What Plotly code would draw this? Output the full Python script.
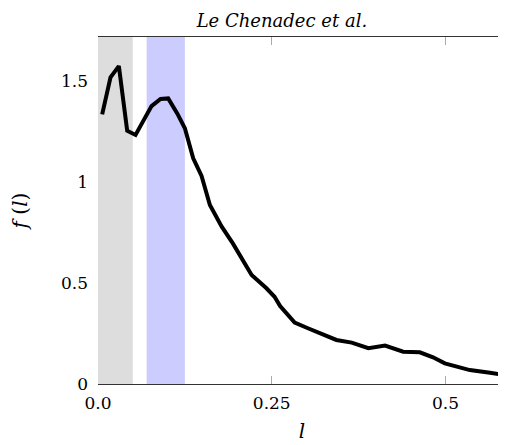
import plotly.graph_objects as go

# curve data
l_vals = [0.006, 0.018, 0.030, 0.042, 0.054, 0.077, 0.090, 0.101, 0.114, 0.125,
          0.137, 0.149, 0.161, 0.178, 0.194, 0.209, 0.221, 0.242, 0.254, 0.262,
          0.283, 0.302, 0.324, 0.343, 0.365, 0.389, 0.413, 0.439, 0.463, 0.482,
          0.499, 0.518, 0.535, 0.564, 0.587, 0.600]
f_vals = [1.335, 1.518, 1.574, 1.254, 1.233, 1.376, 1.411, 1.414, 1.340, 1.266,
          1.117, 1.030, 0.886, 0.779, 0.696, 0.605, 0.540, 0.475, 0.432, 0.386,
          0.304, 0.276, 0.243, 0.218, 0.205, 0.177, 0.190, 0.160, 0.157, 0.132,
          0.102, 0.086, 0.069, 0.056, 0.041, 0.035]

gray_band = [0.0, 0.05]
blue_band = [0.07, 0.125]

x_ticks = [0.0, 0.25, 0.5]
x_tick_labels = ["0.0", "0.25", "0.5"]
y_ticks = [0, 0.5, 1, 1.5]
y_tick_labels = ["0", "0.5", "1", "1.5"]

x_range = [0.0, 0.587]
y_range = [0.0, 1.718]

FONT = "DejaVu Serif"

fig = go.Figure()
for band, col in [(gray_band, "#dddddd"), (blue_band, "#ccccff")]:
    fig.add_trace(go.Scatter(
        x=[band[0], band[1], band[1], band[0], band[0]],
        y=[y_range[0], y_range[0], y_range[1], y_range[1], y_range[0]],
        fill="toself", fillcolor=col, mode="none", hoverinfo="skip",
        showlegend=False))

fig.add_trace(go.Scatter(x=l_vals, y=f_vals, mode="lines",
                         line=dict(color="black", width=4),
                         showlegend=False))

fig.update_layout(
    width=498, height=437,
    margin=dict(l=90, r=0, t=29, b=61),
    plot_bgcolor="white", paper_bgcolor="white",
    font=dict(family=FONT, size=17, color="black"),
    xaxis=dict(range=x_range, tickvals=x_ticks, ticktext=x_tick_labels,
               ticks="inside", ticklen=8, tickcolor="#aaaaaa", tickwidth=1,
               showline=True, linecolor="#333333", linewidth=1.2, mirror="ticks",
               showgrid=False, zeroline=False, layer="below traces",
               ticklabelstandoff=3,
               title=dict(text="<i>l</i>", standoff=12)),
    yaxis=dict(range=y_range, tickvals=y_ticks, ticktext=y_tick_labels,
               ticks="", showline=False, showgrid=False, zeroline=False,
               layer="below traces", ticklabelstandoff=9,
               title=dict(text="<i>f</i> (<i>l</i>)", standoff=28)),
    title=dict(text="<i>Le Chenadec et al.</i>", x=0.550, xanchor="center",
               y=0.985, yanchor="top", font=dict(family=FONT, size=18)),
)

fig.write_html("out.html")
